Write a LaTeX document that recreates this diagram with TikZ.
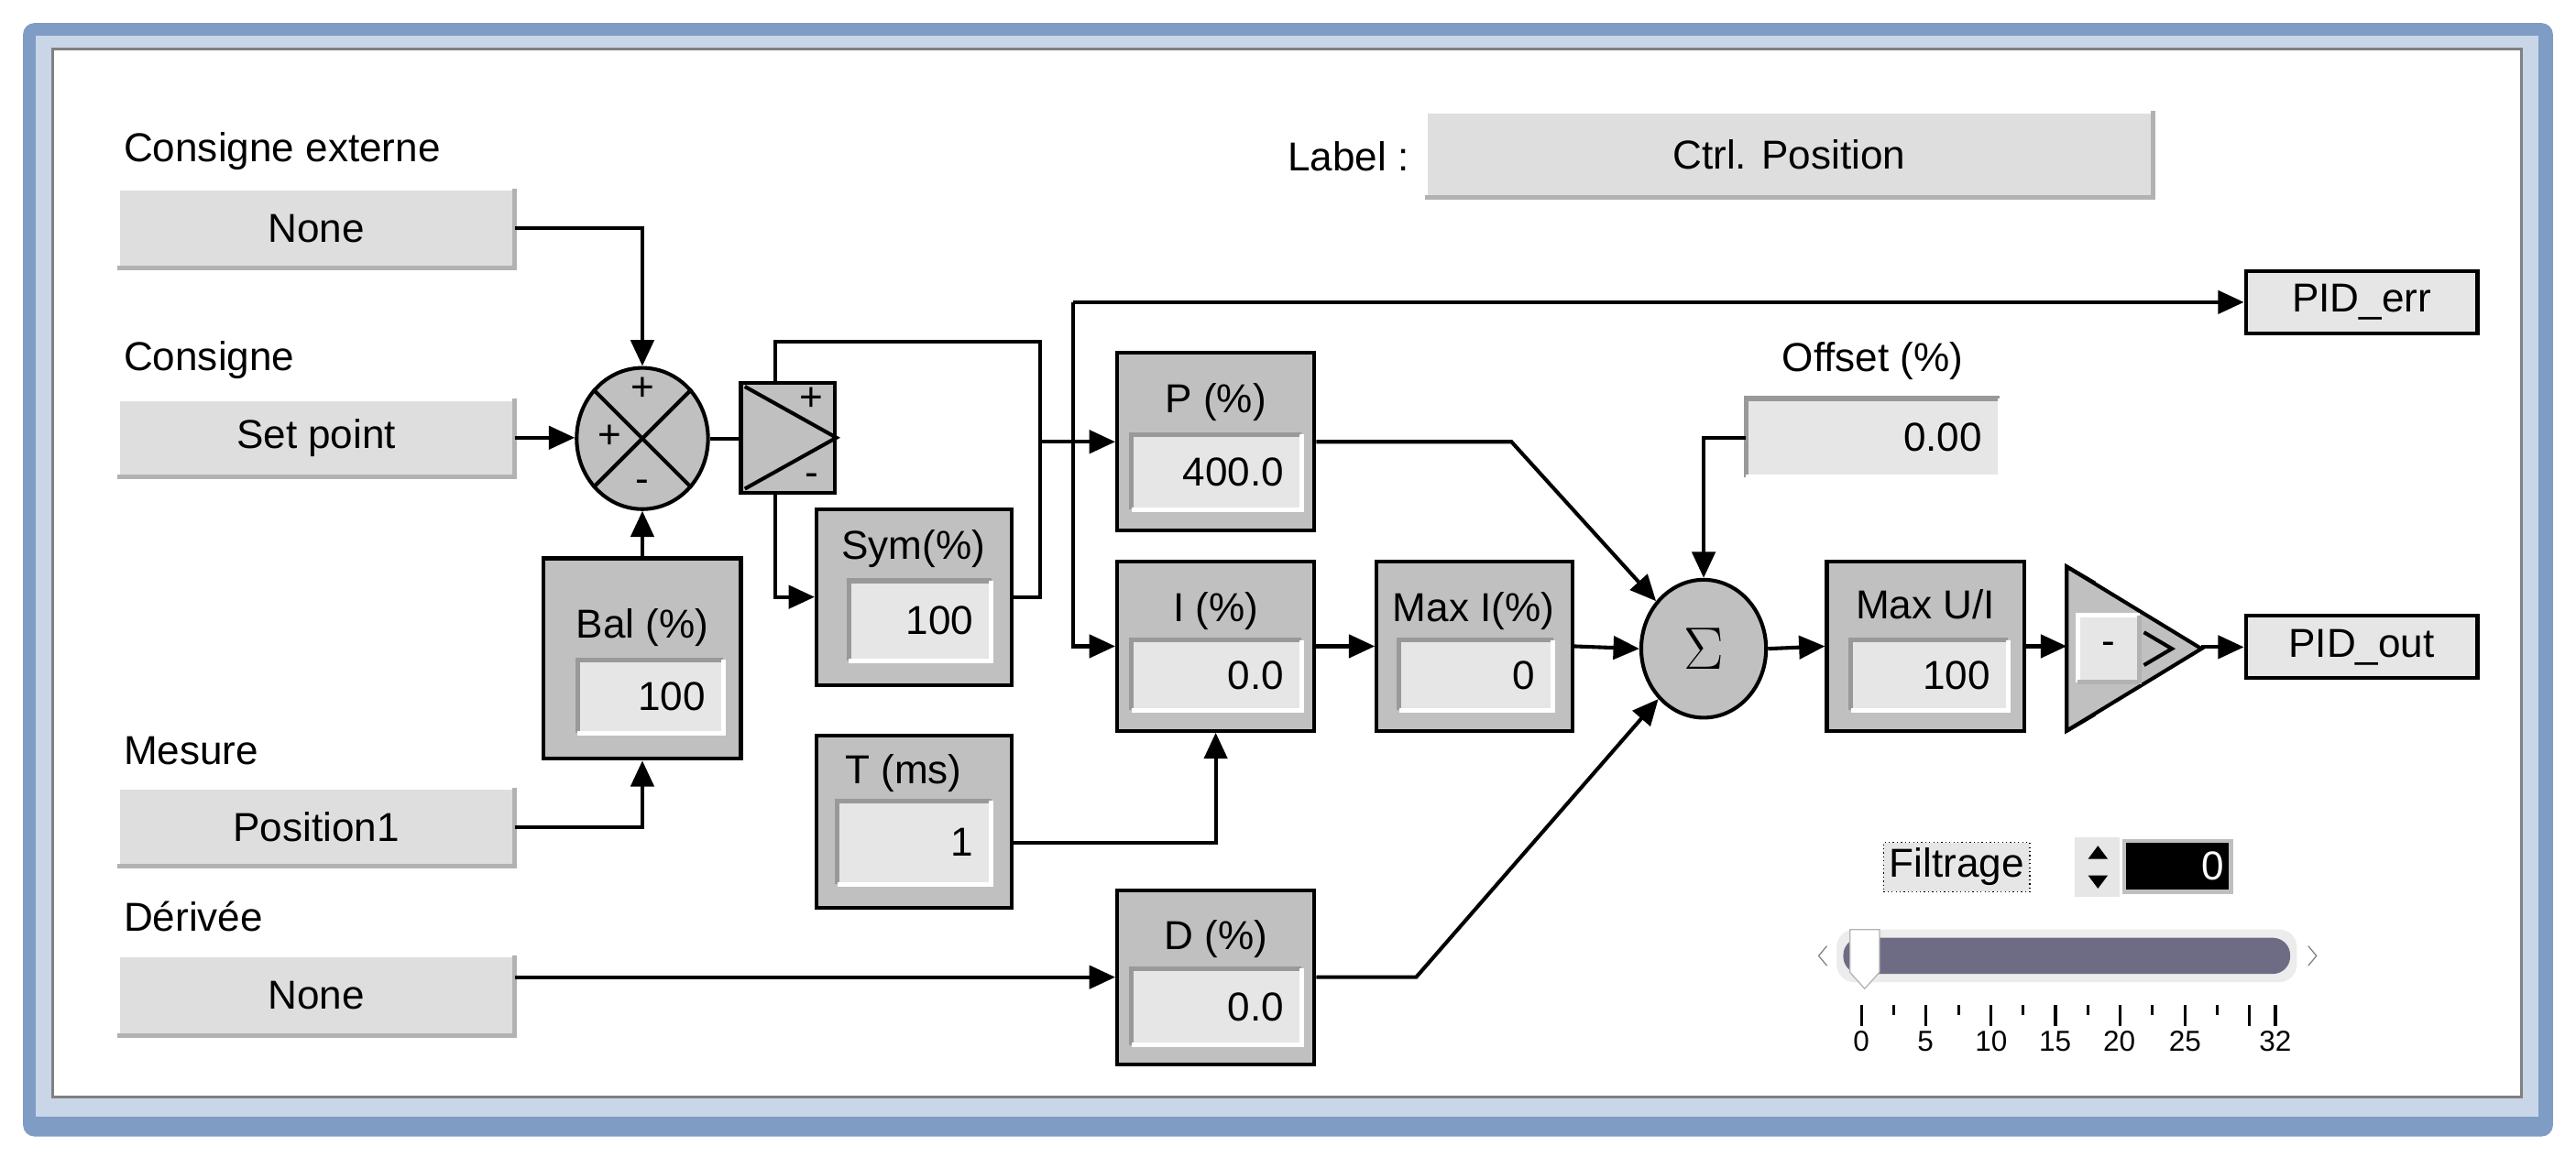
\documentclass[tikz,border=0pt]{standalone}
\usepackage{fontspec}
\setmainfont{Liberation Sans}
\usetikzlibrary{fit,shapes.geometric,arrows.meta}
\definecolor{blk}{HTML}{C0C0C0}
\definecolor{fld}{HTML}{E6E6E6}
\definecolor{inp}{HTML}{DEDEDE}
\definecolor{frameA}{HTML}{7E9CC4}
\definecolor{frameB}{HTML}{C9D6E8}
\definecolor{track}{HTML}{6E6C85}
\tikzset{
  blk/.style={draw=black,line width=1.3pt,fill=blk,inner sep=0pt},
  fld/.style={fill=fld,inner sep=0pt},
  inp/.style={fill=inp,inner sep=0pt},
  txt/.style={font=\fontsize{14}{16}\selectfont,inner sep=0pt},
  arr/.style={line width=1.3pt,-{Triangle[length=9pt,width=8pt]}},
  ln/.style={line width=1.3pt},
}
\newcommand\sunk[1]{\draw[gray!80,line width=1.6pt] (#1.south west)--(#1.north west)--(#1.north east);
  \draw[white,line width=1.6pt] (#1.south west)--(#1.south east)--(#1.north east);}
\newcommand\rais[1]{\draw[white,line width=1.6pt] (#1.south west)--(#1.north west)--(#1.north east);
  \draw[gray!60,line width=1.6pt] (#1.south west)--(#1.south east)--(#1.north east);}
\begin{document}
\begin{tikzpicture}[x=0.02cm,y=-0.02cm]
\useasboundingbox (0,0) rectangle (1568,711);
% window frame
\fill[frameA,rounded corners=4pt] (14,14) rectangle (1554,692);
\fill[frameB] (22,22) rectangle (1545,680);
\draw[gray,fill=white,line width=1pt] (32,30) rectangle (1535,668);
% left inputs
\node[txt,anchor=west] (lce) at (75,92) {Consigne externe};
\node[inp,fit={(72,115)(313,163)}] (CE) {}; \rais{CE}
\node[txt] at (CE.center) {None};
\node[txt,anchor=west] (lc) at (75,219) {Consigne};
\node[inp,fit={(72,243)(313,290)}] (SP) {}; \rais{SP}
\node[txt] at (SP.center) {Set point};
\node[txt,anchor=west] (lm) at (75,457) {Mesure};
\node[inp,fit={(72,480)(313,527)}] (ME) {}; \rais{ME}
\node[txt] at (ME.center) {Position1};
\node[txt,anchor=west] (ld) at (75,558) {Dérivée};
\node[inp,fit={(72,582)(313,630)}] (DE) {}; \rais{DE}
\node[txt] at (DE.center) {None};
% label
\node[txt,anchor=east] (ll) at (858,95) {Label :};
\node[inp,fit={(868,68)(1310,120)}] (LB) {}; \rais{LB}
\node[txt] at (LB.center) {Ctrl. Position};
% summing junction
\node[ellipse,draw,line width=1.3pt,fill=blk,minimum width=1.6cm,minimum height=1.72cm] (S1) at (391,267) {};
\draw[ln] (S1.45)--(S1.225) (S1.135)--(S1.315);
\node[txt] at (391,237) {+};
\node[txt] at (371,266) {+};
\node[txt] at (391,296) {-};
% comparator
\node[blk,fit={(451,233)(508,300)}] (CP) {};
\draw[ln] ([xshift=2pt,yshift=-2pt]CP.north west)--(CP.east)--([xshift=2pt,yshift=2pt]CP.south west);
\node[txt] at (494,243) {+};
\node[txt] at (494,292) {-};
% Bal
\node[blk,fit={(331,340)(451,462)}] (BAL) {};
\node[txt] at (391,382) {Bal (\%)};
\node[fld,fit={(352,402)(440,446)}] (BALf) {}; \sunk{BALf}
\node[txt,anchor=east] at ([xshift=-6pt]BALf.east) {100};
% Sym
\node[blk,fit={(497,310)(616,417)}] (SYM) {};
\node[txt] at (556,334) {Sym(\%)};
\node[fld,fit={(517,354)(603,402)}] (SYMf) {}; \sunk{SYMf}
\node[txt,anchor=east] at ([xshift=-6pt]SYMf.east) {100};
% T
\node[blk,fit={(497,448)(616,553)}] (T) {};
\node[txt] at (550,471) {T (ms)};
\node[fld,fit={(510,488)(603,538)}] (Tf) {}; \sunk{Tf}
\node[txt,anchor=east] at ([xshift=-6pt]Tf.east) {1};
% P
\node[blk,fit={(680,215)(800,323)}] (P) {};
\node[txt] at (740,245) {P (\%)};
\node[fld,fit={(689,265)(792,310)}] (Pf) {}; \sunk{Pf}
\node[txt,anchor=east] at ([xshift=-6pt]Pf.east) {400.0};
% I
\node[blk,fit={(680,342)(800,445)}] (I) {};
\node[txt] at (740,372) {I (\%)};
\node[fld,fit={(689,390)(792,432)}] (If) {}; \sunk{If}
\node[txt,anchor=east] at ([xshift=-6pt]If.east) {0.0};
% Max I
\node[blk,fit={(838,342)(957,445)}] (MI) {};
\node[txt] at (897,372) {Max I(\%)};
\node[fld,fit={(852,390)(945,432)}] (MIf) {}; \sunk{MIf}
\node[txt,anchor=east] at ([xshift=-6pt]MIf.east) {0};
% D
\node[blk,fit={(680,542)(800,648)}] (D) {};
\node[txt] at (740,572) {D (\%)};
\node[fld,fit={(689,590)(792,636)}] (Df) {}; \sunk{Df}
\node[txt,anchor=east] at ([xshift=-6pt]Df.east) {0.0};
% Sigma
\node[ellipse,draw,line width=1.3pt,fill=blk,minimum width=1.52cm,minimum height=1.68cm,font=\fontsize{22}{24}\selectfont] (SG) at (1037,395) {$\Sigma$};
% Offset
\node[txt] (lo) at (1140,220) {Offset (\%)};
\node[fld,fit={(1063,243)(1217,290)}] (OFf) {}; \sunk{OFf}
\node[txt,anchor=east] at ([xshift=-6pt]OFf.east) {0.00};
% Max U/I
\node[blk,fit={(1112,342)(1232,445)}] (MU) {};
\node[txt] at (1172,368) {Max U/I};
\node[fld,fit={(1127,390)(1222,432)}] (MUf) {}; \sunk{MUf}
\node[txt,anchor=east] at ([xshift=-6pt]MUf.east) {100};
% triangle
\fill[blk] (1258,345) -- (1340,395) -- (1258,445) -- cycle;
\draw[ln] (1258,345) -- (1258,445);
\draw[ln] (1258,345) -- (1275,355) (1258,445) -- (1275,435) (1305,385)--(1322,395)--(1305,405);
\node[fld,fit={(1265,375)(1302,415)}] (NEG) {}; \rais{NEG}
\node[txt] at (NEG.center) {-};
% outputs
\node[draw,line width=1.3pt,fill=fld,fit={(1367,165)(1508,203)},inner sep=0pt] (ERR) {};
\node[txt] at (ERR.center) {PID\_err};
\node[draw,line width=1.3pt,fill=fld,fit={(1367,375)(1508,413)},inner sep=0pt] (OUT) {};
\node[txt] at (OUT.center) {PID\_out};
\coordinate (TRin) at (MU.east -| 1258,0);
\coordinate (TRout) at (OUT.west -| 1340,0);
% connectors
\draw[arr] (CE.east) -| (S1.north);
\draw[arr] (SP.east) -- (SP.east -| S1.west);
\draw[arr] (BAL.north) -- (S1.south);
\draw[arr] (ME.east) -| (BAL.south);
\draw[ln] (S1.east) -- (S1.east -| CP.west);
\coordinate (ja) at (633,208);
\draw[ln] (CP.north -| 472,0) |- (ja) -- (SYM.east -| ja) -- (SYM.east);
\draw[arr] (CP.south -| 472,0) |- (SYM.west);
\draw[arr] (P.west -| ja) -- (P.west);
\coordinate (jb) at (ERR.west -| 653,0);
\draw[arr] (jb) -- (ERR.west);
\draw[arr] (jb) |- (I.west);
\draw[arr] (I.east) -- (MI.west);
\draw[arr] (Tf.east -| T.east) -| (I.south);
\draw[arr] (DE.east |- D.west) -- (D.west);
\draw[arr] (P.east) -- (920,269) -- (SG.135);
\draw[arr] (D.east) -- (862,595) -- (SG.228);
\draw[arr] (MI.east) -- (SG.west);
\draw[arr] (OFf.west) -| (SG.north);
\draw[arr] (SG.east) -- (MU.west);
\draw[arr] (MU.east) -- (TRin);
\draw[arr] (TRout) -- (OUT.west);
% Filtrage
\node[txt,draw,densely dotted,fill=fld,inner sep=2pt] (FIL) at (1191,528) {Filtrage};
\node[fill=fld,fit={(1263,510)(1290,546)},inner sep=0pt] (SPN) {};
\fill (1271,523) -- (1277,515) -- (1283,523) -- cycle;
\fill (1271,533) -- (1277,541) -- (1283,533) -- cycle;
\node[fill=black,draw=gray!50,line width=1.5pt,fit={(1293,512)(1358,543)},inner sep=0pt] (FV) {};
\node[txt,text=white,anchor=east] at ([xshift=-3pt]FV.east) {0};
% slider
\fill[gray!15,rounded corners=6pt] (1118,566) rectangle (1398,598);
\fill[track,rounded corners=6pt] (1122,571) rectangle (1394,593);
\fill[white,draw=gray!60] (1126,566) -- (1144,566) -- (1144,592) -- (1135,602) -- (1126,592) -- cycle;
\draw[gray] (1112,576) -- (1107,582) -- (1112,588);
\draw[gray] (1405,576) -- (1410,582) -- (1405,588);
\foreach \i in {0,...,12}{
  \pgfmathsetmacro\xx{1133+\i*2.5*7.875}
  \ifodd\i \draw[line width=1pt] (\xx,612) -- (\xx,618); \else \draw[line width=1pt] (\xx,612) -- (\xx,625); \fi}
\draw[line width=1pt] (1385,612) -- (1385,625);
\foreach \v/\xx in {0/1133,5/1172,10/1212,15/1251,20/1290,25/1330,32/1385}
  \node[font=\fontsize{10}{12}\selectfont,inner sep=0pt] at (\xx,634) {\v};
\end{tikzpicture}
\end{document}
